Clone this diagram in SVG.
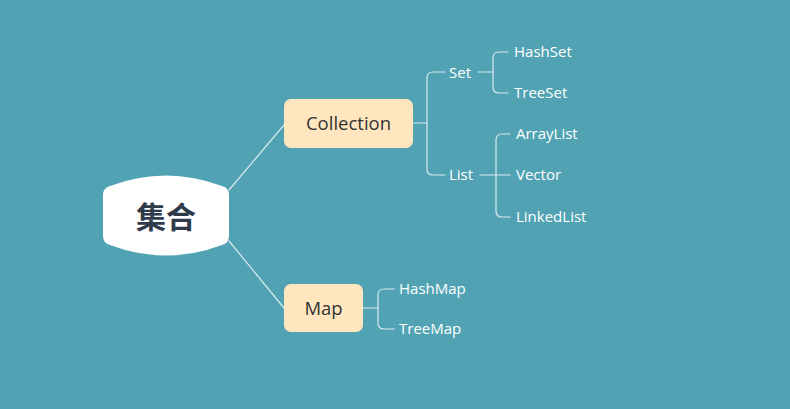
<svg xmlns="http://www.w3.org/2000/svg" width="790" height="409" viewBox="0 0 790 409">
<style>
.conn{fill:none;stroke:#d9e9ed;stroke-width:1.2;stroke-linecap:round;stroke-linejoin:round}
.box{fill:#ffe6bf}
.main{font-family:"Open Sans","Noto Sans",sans-serif;font-size:18.5px;fill:#333333}
.leaf{font-family:"Open Sans","Noto Sans",sans-serif;font-size:15px;fill:#ffffff}
.root{font-family:"Noto Sans CJK SC","Noto Sans",sans-serif;font-size:30px;font-weight:bold;fill:#2f3b4a}
</style>
<rect width="790" height="409" fill="#51a3b4"/>
<g id="connectors">
<path class="conn" d="M229,190 L284,125"/>
<path class="conn" d="M229,241 L284,308"/>
<path class="conn" d="M413,123 L427,123"/>
<path class="conn" d="M445,72 L433,72 Q427,72 427,78 L427,169 Q427,175 433,175 L445,175"/>
<path class="conn" d="M478,72 L493,72"/>
<path class="conn" d="M508,52 L499,52 Q493,52 493,58 L493,87 Q493,93 499,93 L508,93"/>
<path class="conn" d="M480,175 L510,175"/>
<path class="conn" d="M510,134 L502,134 Q496,134 496,140 L496,211 Q496,217 502,217 L510,217"/>
<path class="conn" d="M363,308 L378,308"/>
<path class="conn" d="M394,289 L384,289 Q378,289 378,295 L378,323 Q378,329 384,329 L394,329"/>
</g>
<g id="root">
<path d="M103,195 Q103,188 110,186 Q166,165 222,186 Q229,188 229,195 L229,236 Q229,243 222,245 Q166,266 110,245 Q103,243 103,236 Z" fill="#ffffff"/>
<text class="root" x="166" y="228" text-anchor="middle">集合</text>
</g>
<g id="collection">
<rect class="box" x="284" y="99" width="129" height="49" rx="7"/>
<text class="main" x="348.5" y="130" text-anchor="middle">Collection</text>
</g>
<g id="map">
<rect class="box" x="284" y="284" width="79" height="48" rx="7"/>
<text class="main" x="323.5" y="315" text-anchor="middle">Map</text>
</g>
<g id="set"><text class="leaf" x="449" y="78">Set</text></g>
<g id="list"><text class="leaf" x="449" y="180">List</text></g>
<g id="hashset"><text class="leaf" x="514" y="57">HashSet</text></g>
<g id="treeset"><text class="leaf" x="514" y="98">TreeSet</text></g>
<g id="arraylist"><text class="leaf" x="516" y="139">ArrayList</text></g>
<g id="vector"><text class="leaf" x="516" y="180">Vector</text></g>
<g id="linkedlist"><text class="leaf" x="516" y="222">LinkedList</text></g>
<g id="hashmap"><text class="leaf" x="399" y="294">HashMap</text></g>
<g id="treemap"><text class="leaf" x="399" y="334">TreeMap</text></g>
</svg>
